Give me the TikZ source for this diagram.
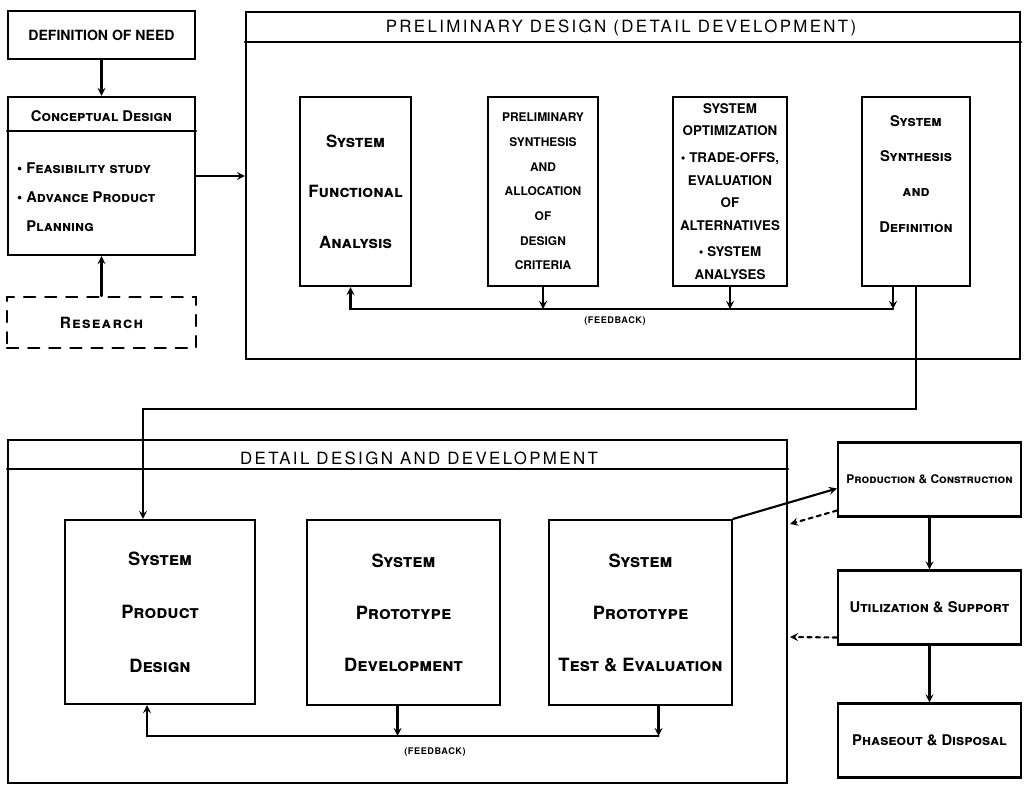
\documentclass[tikz,border=0pt]{standalone}
\usepackage{fontspec}
\setmainfont{TeX Gyre Heros}
\usetikzlibrary{arrows,calc,positioning}
\newcommand\pxu{0.025cm}

\begin{document}
\begin{tikzpicture}
[x=\pxu,y=-\pxu,>=stealth,line width=1.5pt,line cap=round,
% Styles
size/.style 2 args={minimum width=#1*\pxu,minimum height=#2*\pxu},
box/.style={draw,rectangle,inner sep=1pt,align=center},
frame/.style={draw,rectangle},
dashbox/.style={draw,rectangle,dash pattern=on 8pt off 7pt},
frame title/.style={font=\fontsize{12}{14}\selectfont\addfontfeature{LetterSpace=14}},
feedback text/.style={font=\fontsize{6.5}{7}\selectfont\bfseries\addfontfeature{LetterSpace=6}},
back arrow/.style={->,dashed}]
\useasboundingbox (0,0) rectangle (1025,787);
% Conceptual design
\node[box,size={187}{48},font=\bfseries\fontsize{10}{11}\selectfont] (need) at (101.5,35) {DEFINITION OF NEED};
\node[frame,size={187}{158}] (concept) at (101.5,176) {};
\draw ($(concept.north west)+(0,35)$) -- ($(concept.north east)+(0,35)$);
\node[font=\bfseries\scshape\fontsize{10.5}{12}\selectfont] (concepttitle) at (101.5,116) {Conceptual Design};
\node[anchor=north west,align=left,inner sep=0pt,font=\bfseries\scshape\fontsize{10.5}{20.5}\selectfont] (conceptlist) at (16,162)
{\textbullet\ Feasibility study\\ \textbullet\ Advance Product\\ \phantom{\textbullet\ }Planning};
\node[dashbox,size={189}{51},font=\bfseries\scshape\fontsize{11}{13}\selectfont\addfontfeature{LetterSpace=8}] (research) at (101.5,322.5) {Research};
\draw[->] (need) -- (concept);
\draw[->] (research) -- (concept);
% Preliminary design
\node[frame,size={774}{347}] (prelim) at (633,185.5) {};
\draw ($(prelim.north west)+(0,31)$) -- ($(prelim.north east)+(0,31)$);
\node[frame title] (prelimtitle) at (621,28) {PRELIMINARY DESIGN (DETAIL DEVELOPMENT)};
\draw[->] (concept) -- (concept -| prelim.west);
\node[box,size={111}{189},font=\bfseries\scshape\fontsize{12}{36}\selectfont] (sfa) at (355.5,191.5)
{System\\Functional\\Analysis};
\node[box,size={110}{189},font=\bfseries\fontsize{8.5}{17.5}\selectfont] (psa) at (543,191.5)
{PRELIMINARY\\SYNTHESIS\\AND\\ALLOCATION\\OF\\DESIGN\\CRITERIA};
\node[box,size={114}{189},font=\bfseries\fontsize{9.5}{16}\selectfont] (sop) at (730,191.5)
{SYSTEM\\OPTIMIZATION\\[3pt]\textbullet\ TRADE-OFFS,\\EVALUATION\\OF\\ALTERNATIVES\\[3pt]\textbullet\ SYSTEM\\ANALYSES};
\node[box,size={108}{189},font=\bfseries\scshape\fontsize{10.5}{25}\selectfont] (ssd) at (916,191.5)
{System\\Synthesis\\and\\Definition\\ \mbox{}};
% Feedback
\coordinate (fb) at (0,309);
\coordinate (ssdfb) at ([xshift=-23*\pxu]ssd.south);
\foreach \b in {psa,sop}
\draw[->] (\b) -- (\b |- fb);
\draw[->] (ssdfb) -- (ssdfb |- fb);
\draw[->] (ssdfb |- fb) -| ([xshift=-5*\pxu]sfa.south);
\node[feedback text] (fblabel) at (615,321) {(FEEDBACK)};
% Detail design
\node[frame,size={779}{343}] (detail) at (397.5,611.5) {};
\draw ($(detail.north west)+(0,30)$) -- ($(detail.north east)+(0,30)$);
\node[frame title] (detailtitle) at (419,458) {DETAIL DESIGN AND DEVELOPMENT};
\node[box,size={190}{184},font=\bfseries\scshape\fontsize{13}{38}\selectfont] (spd) at (160,612)
{System\\Product\\Design};
\node[box,size={193}{185},font=\bfseries\scshape\fontsize{13}{37}\selectfont] (spp) at (403.5,612.5)
{System\\Prototype\\Development};
\node[box,size={183}{185},font=\bfseries\scshape\fontsize{13}{37}\selectfont] (ste) at (640.5,612.5)
{System\\Prototype\\Test \& Evaluation};
\coordinate (turn) at (0,409);
\coordinate (spdin) at ([xshift=-17*\pxu]spd.north);
\draw[->] (ssd) |- (spdin |- turn) -- (spdin);
% Feedback
\coordinate (fbb) at (0,736);
\coordinate (sppfb) at ([xshift=-6*\pxu]spp.south);
\coordinate (stefb) at ([xshift=18*\pxu]ste.south);
\draw[->] (sppfb) -- (sppfb |- fbb);
\draw[->] (stefb) -- (stefb |- fbb);
\draw[->] (stefb |- fbb) -| ([xshift=-13*\pxu]spd.south);
\node[feedback text] (fblabel2) at (435,752) {(FEEDBACK)};
% Production, use and phaseout
\node[box,size={183}{74},font=\bfseries\scshape\fontsize{8.5}{10}\selectfont] (prod) at (929.5,479.5) {Production \& Construction};
\node[box,size={183}{74},font=\bfseries\scshape\fontsize{10.5}{12}\selectfont] (util) at (929.5,607.5) {Utilization \& Support};
\node[box,size={183}{74},font=\bfseries\scshape\fontsize{10.5}{12}\selectfont] (phase) at (929.5,740.5) {Phaseout \& Disposal};
\draw[->] (prod) -- (util);
\draw[->] (util) -- (phase);
\draw[->] (ste.north east) -- ([yshift=-9*\pxu]prod.west);
\coordinate (ret1) at (790,524);
\coordinate (ret2) at (790,637);
\draw[back arrow] ([yshift=-31*\pxu]prod.west) -- (ret1);
\draw[back arrow] ([yshift=-30*\pxu]util.west) -- (ret2);
\end{tikzpicture}
\end{document}
